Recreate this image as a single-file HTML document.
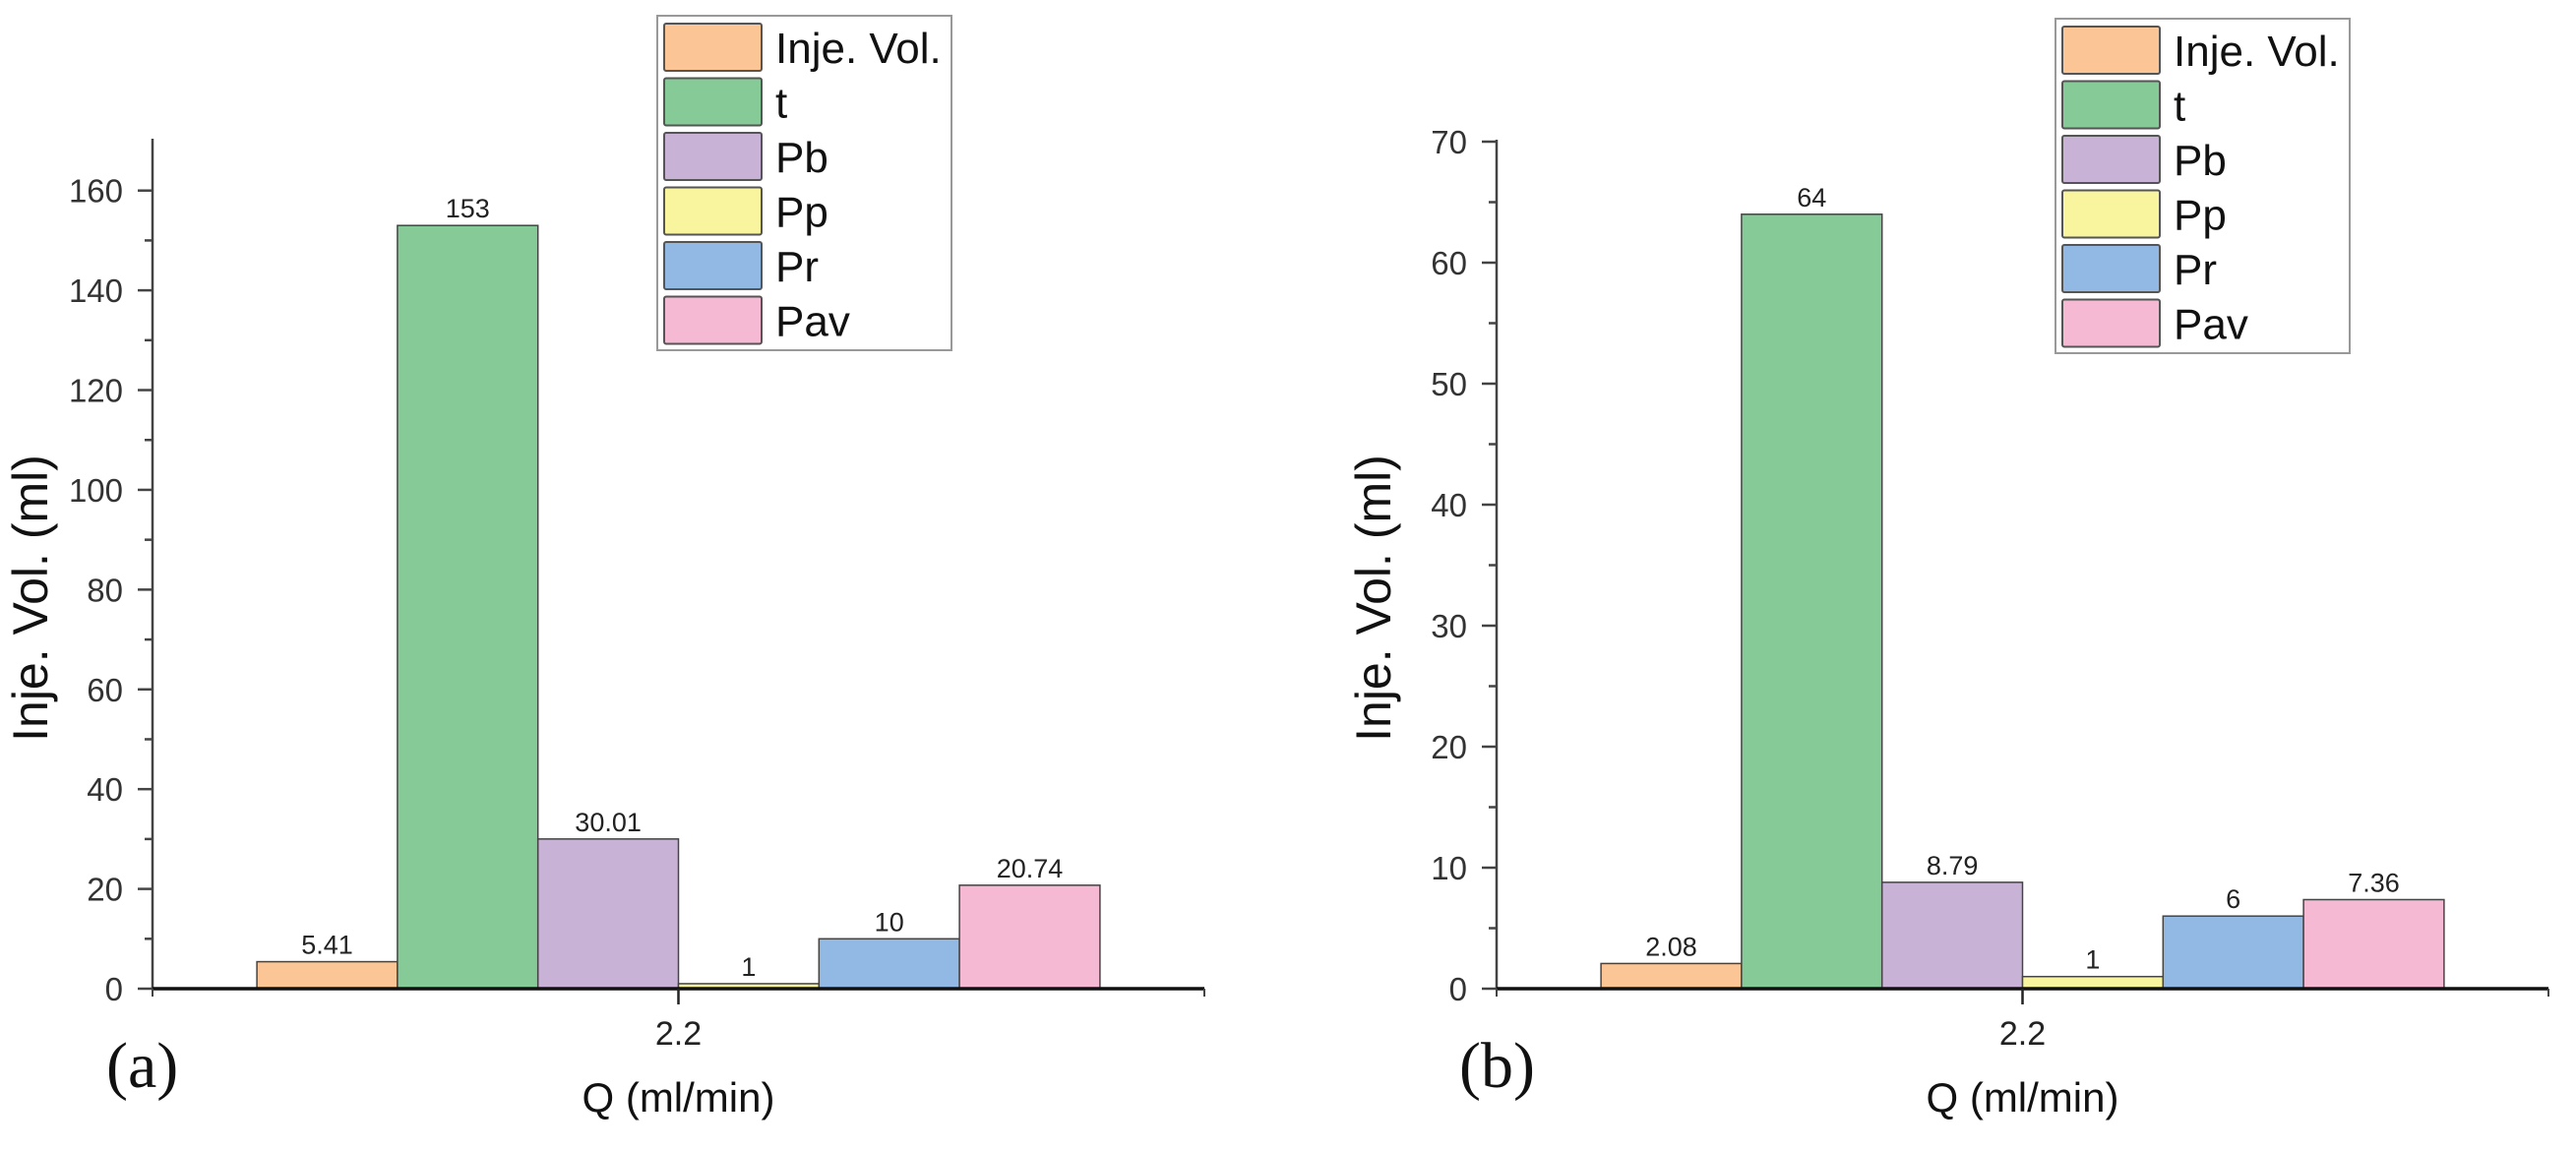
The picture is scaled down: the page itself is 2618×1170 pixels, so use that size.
<!DOCTYPE html>
<html><head><meta charset="utf-8"><style>
html,body{margin:0;padding:0;background:#fff;}
svg{display:block;font-family:"Liberation Sans",Arial,sans-serif;}
</style></head><body>
<svg id="fig" width="2618" height="1170" viewBox="0 0 2618 1170" xmlns="http://www.w3.org/2000/svg"></svg>
<script>
const seriesNames = ["Inje. Vol.","t","Pb","Pp","Pr","Pav"];
const seriesColors = ["#fbc595","#86cb97","#c8b3d7","#f8f59e","#92b9e3","#f5b9d4"];
const valuesA = [5.41,153,30.01,1,10,20.74];
const labelsA = ["5.41","153","30.01","1","10","20.74"];
const valuesB = [2.08,64,8.79,1,6,7.36];
const labelsB = ["2.08","64","8.79","1","6","7.36"];
const ticksA = [0,20,40,60,80,100,120,140,160];
const ticksB = [0,10,20,30,40,50,60,70];
const category = "2.2";

const NS="http://www.w3.org/2000/svg";
const svg=document.getElementById('fig');
function mk(tag,attrs,parent,text){const e=document.createElementNS(NS,tag);for(const k in attrs)e.setAttribute(k,attrs[k]);if(text!==undefined)e.textContent=text;(parent||svg).appendChild(e);return e;}

function chart(cfg){
  const g=mk('g',{});
  
  
  const y=v=>cfg.y0-(v-0)*(cfg.y0-cfg.yTop)/cfg.max;
  // bars
  const bw=142.8, n=cfg.values.length, cx=(cfg.x0+cfg.x1)/2, left=cx-bw*n/2;
  cfg.values.forEach((v,i)=>{
    const r=mk('rect',{x:left+i*bw,y:y(v),width:bw,height:cfg.y0-y(v),fill:seriesColors[i],stroke:'#444','stroke-width':1.5},g);
    
    
    const t=mk('text',{x:left+i*bw+bw/2,y:y(v)-8,'font-size':27,'text-anchor':'middle',fill:'#222'},g,cfg.labels[i]);
    
    
  });
  // y axis
  const ya=mk('line',{x1:cfg.x0,y1:cfg.yTop-2,x2:cfg.x0,y2:cfg.y0,stroke:'#444','stroke-width':2.5},g);
  
  
  cfg.ticks.forEach((tv,i)=>{
    mk('line',{x1:cfg.x0-15,y1:y(tv),x2:cfg.x0,y2:y(tv),stroke:'#444','stroke-width':2.5},g);
    const t=mk('text',{x:cfg.x0-30,y:y(tv)+12,'font-size':33,'text-anchor':'end',fill:'#333'},g,String(tv));
    
    
    if(i<cfg.ticks.length-1){const m=(tv+cfg.ticks[i+1])/2;mk('line',{x1:cfg.x0-8,y1:y(m),x2:cfg.x0,y2:y(m),stroke:'#444','stroke-width':2.5},g);}
  });
  // x axis
  const xa=mk('line',{x1:cfg.x0,y1:cfg.y0,x2:cfg.x1,y2:cfg.y0,stroke:'#111','stroke-width':3.5},g);
  
  
  mk('line',{x1:cfg.x1,y1:cfg.y0,x2:cfg.x1,y2:cfg.y0+8,stroke:'#444','stroke-width':2},g);
  mk('line',{x1:cfg.x0,y1:cfg.y0,x2:cfg.x0,y2:cfg.y0+8,stroke:'#444','stroke-width':2},g);
  mk('line',{x1:cx,y1:cfg.y0,x2:cx,y2:cfg.y0+16,stroke:'#222','stroke-width':2.5},g);
  const xl=mk('text',{x:cx,y:1062,'font-size':34,'text-anchor':'middle',fill:'#222'},g,category);
  
  
  const xt=mk('text',{x:cx,y:1130,'font-size':42,'text-anchor':'middle',fill:'#111'},g,'Q (ml/min)');
  
  
  const yt=mk('text',{x:0,y:0,'font-size':50,'text-anchor':'middle',fill:'#111',transform:`translate(${cfg.ytx},608) rotate(-90)`},g,'Inje. Vol. (ml)');
  
  
  const pl=mk('text',{x:cfg.px,y:1105,'font-size':66,fill:'#111','font-family':'"Liberation Serif",serif'},g,cfg.panel);
  
  
  // legend
  const lg=mk('g',{},g);
  
  
  mk('rect',{x:cfg.lx,y:cfg.ly,width:299,height:340,fill:'#fff',stroke:'#999','stroke-width':2},lg);
  seriesNames.forEach((nm,i)=>{
    const ey=cfg.ly+8+i*55.5;
    const sw=mk('rect',{x:cfg.lx+7,y:ey,width:99,height:48,fill:seriesColors[i],stroke:'#555','stroke-width':2,rx:2},lg);
    
    
    const lt=mk('text',{x:cfg.lx+120,y:ey+40,'font-size':44,fill:'#111'},lg,nm);
    
    
  });
}
chart({name:'chart-a',values:valuesA,labels:labelsA,ticks:ticksA,max:170,x0:155,x1:1224,y0:1005,yTop:143,ytx:48,px:108,panel:'(a)',lx:668,ly:16});
chart({name:'chart-b',values:valuesB,labels:labelsB,ticks:ticksB,max:70,x0:1521,x1:2590,y0:1005,yTop:144,ytx:1413,px:1483,panel:'(b)',lx:2089,ly:19});
</script>
</body></html>
